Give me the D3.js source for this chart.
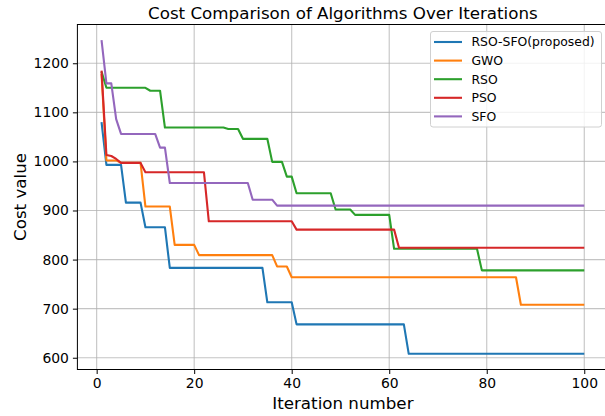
<!DOCTYPE html>
<html>
<head>
<meta charset="utf-8">
<script src="https://cdn.jsdelivr.net/npm/d3@7"></script>
<style>
body { margin: 0; background: #fff; }
text { font-family: "DejaVu Sans", sans-serif; }
</style>
</head>
<body>
<script>
const w = 605;
const h = 416;

// each series: iteration where the value changes, and the value from there on
const algorithms = ["RSO-SFO(proposed)", "GWO", "RSO", "PSO", "SFO"];
const colors = ["#1f77b4", "#ff7f0e", "#2ca02c", "#d62728", "#9467bd"];
const lastIter = 100;

const rsoSfoIter = [1, 2, 6, 10, 15, 35, 41, 64];
const rsoSfoCost = [1080, 993, 916, 866, 783, 713, 668, 608];

const gwoIter = [1, 2, 5, 10, 16, 21, 37, 40, 87];
const gwoCost = [1178, 1002, 997, 908, 830, 809, 786, 764, 708];

const rsoIter = [1, 2, 11, 14, 27, 30, 36, 39, 41, 49, 53, 61, 79];
const rsoCost = [1183, 1150, 1144, 1069, 1066, 1046, 999, 969, 935, 902, 891, 822, 778];

const psoIter = [1, 2, 3, 4, 5, 10, 23, 41, 62];
const psoCost = [1185, 1013, 1011, 1005, 997, 978, 878, 861, 824];

const sfoIter = [1, 2, 4, 5, 13, 15, 32, 37];
const sfoCost = [1247, 1159, 1086, 1056, 1028, 956, 922, 910];

const xTicks = [0, 20, 40, 60, 80, 100];
const yTicks = [600, 700, 800, 900, 1000, 1100, 1200];

const series = [
  [rsoSfoIter, rsoSfoCost],
  [gwoIter, gwoCost],
  [rsoIter, rsoCost],
  [psoIter, psoCost],
  [sfoIter, sfoCost]
];

// vertices of the per-iteration line
function vertices(iters, costs) {
  let pts = [];
  iters.forEach(function (it, i) {
    pts.push([it, costs[i]]);
    let end = i < iters.length - 1 ? iters[i + 1] - 1 : lastIter;
    if (end > it) pts.push([end, costs[i]]);
  });
  return pts;
}

const mLeft = 77.4, mRight = 608.4, mTop = 24.5, mBottom = 369.5;

const x = d3.scaleLinear().domain([-3.95, 104.95]).range([mLeft, mRight]);
const y = d3.scaleLinear().domain([576.05, 1278.95]).range([mBottom, mTop]);

let svg = d3.select("body")
  .append("svg")
  .attr("width", w)
  .attr("height", h);

// grid
svg.append("g")
  .selectAll("line")
  .data(xTicks)
  .join("line")
  .attr("x1", d => x(d)).attr("x2", d => x(d))
  .attr("y1", mTop).attr("y2", mBottom)
  .attr("stroke", "#b0b0b0").attr("stroke-opacity", 0.75).attr("stroke-width", 1.1);

svg.append("g")
  .selectAll("line")
  .data(yTicks)
  .join("line")
  .attr("x1", mLeft).attr("x2", mRight)
  .attr("y1", d => y(d)).attr("y2", d => y(d))
  .attr("stroke", "#b0b0b0").attr("stroke-opacity", 0.75).attr("stroke-width", 1.1);

// lines
const line = d3.line().x(d => x(d[0])).y(d => y(d[1]));

svg.append("g")
  .selectAll("path")
  .data(series)
  .join("path")
  .attr("d", d => line(vertices(d[0], d[1])))
  .attr("fill", "none")
  .attr("stroke", (d, i) => colors[i])
  .attr("stroke-width", 2.1)
  .attr("stroke-linejoin", "round");

// axes
const xAxis = d3.axisBottom(x).tickValues(xTicks).tickSize(4.5).tickPadding(4).tickFormat(d3.format("d"));
const yAxis = d3.axisLeft(y).tickValues(yTicks).tickSize(4.5).tickPadding(4).tickFormat(d3.format("d"));

let gx = svg.append("g").attr("transform", `translate(0,${mBottom})`).call(xAxis);
let gy = svg.append("g").attr("transform", `translate(${mLeft},0)`).call(yAxis);
[gx, gy].forEach(function (g) {
  g.select(".domain").remove();
  g.selectAll(".tick line").attr("stroke", "#000").attr("stroke-width", 1);
  g.selectAll(".tick text")
    .attr("fill", "#000")
    .style("font-size", "13.9px")
    .style("font-family", "DejaVu Sans");
});

// spines
svg.append("rect")
  .attr("x", mLeft).attr("y", mTop)
  .attr("width", mRight - mLeft).attr("height", mBottom - mTop)
  .attr("fill", "none").attr("stroke", "#000").attr("stroke-width", 1);

// titles
svg.append("text")
  .attr("x", (mLeft + mRight) / 2).attr("y", 19)
  .attr("text-anchor", "middle")
  .style("font-size", "16.7px")
  .text("Cost Comparison of Algorithms Over Iterations");

svg.append("text")
  .attr("x", (mLeft + mRight) / 2).attr("y", 409)
  .attr("text-anchor", "middle")
  .style("font-size", "16.7px")
  .text("Iteration number");

svg.append("text")
  .attr("transform", `translate(26,${(mTop + mBottom) / 2}) rotate(-90)`)
  .attr("text-anchor", "middle")
  .style("font-size", "16.7px")
  .text("Cost value");

// legend
let lg = svg.append("g");
lg.append("rect")
  .attr("x", 430.5).attr("y", 31.5)
  .attr("width", 171).attr("height", 95.5)
  .attr("rx", 2.5)
  .attr("fill", "#fff").attr("fill-opacity", 0.8)
  .attr("stroke", "#d0d0d0").attr("stroke-width", 1);

let items = lg.selectAll("g.item")
  .data(algorithms)
  .join("g")
  .attr("class", "item")
  .attr("transform", (d, i) => `translate(0,${42 + i * 18.6})`);

items.append("line")
  .attr("x1", 434).attr("x2", 462)
  .attr("stroke", (d, i) => colors[i])
  .attr("stroke-width", 2.1);

items.append("text")
  .attr("x", 471.5).attr("y", 4.4)
  .style("font-size", "12.4px")
  .text(d => d);
</script>
</body>
</html>
